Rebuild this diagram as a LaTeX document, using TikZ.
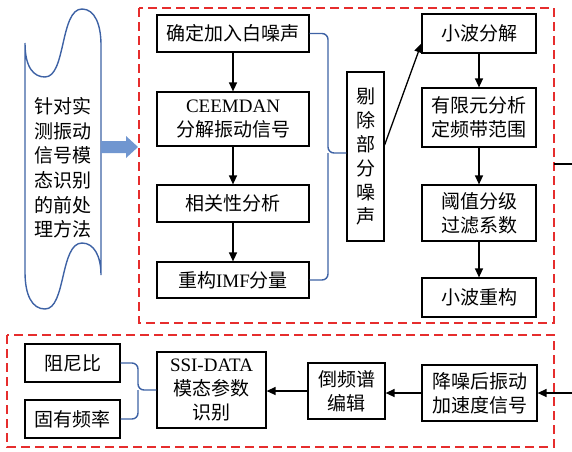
\documentclass[tikz,border=0pt]{standalone}
\usepackage{fontspec}
\setmainfont{Liberation Serif}
\newfontfamily\cjk{Noto Sans CJK SC}
\usetikzlibrary{arrows.meta}
\definecolor{dred}{RGB}{230,45,45}
\definecolor{bline}{RGB}{62,98,165}
\definecolor{bfill}{RGB}{112,150,208}
\begin{document}
\begin{tikzpicture}[x=1pt,y=-1pt,
  box/.style={draw=black, line width=1.2pt, inner sep=0pt, align=center, font=\fontsize{19}{24}\selectfont\cjk},
  lbl/.style={inner sep=0pt, align=center, font=\fontsize{19}{24.6}\selectfont\cjk},
  dbox/.style={draw=dred, line width=1.6pt, dash pattern=on 9pt off 5pt},
  arr/.style={draw=black, line width=1.3pt, -{Triangle[length=9pt,width=8pt]}},
  brace/.style={draw=bline, line width=1.4pt, rounded corners=6pt},
]
\useasboundingbox (0,0) rectangle (572,451);

% dashed frames
\draw[dbox] (139,8) rectangle (554,323);
\draw[dbox] (7,335) rectangle (554,447);

% scroll shape
\draw[bline, line width=1.4pt]
  (25,43) .. controls (25,68) and (34,77) .. (45,77)
  .. controls (66,77) and (60,9) .. (82,9)
  .. controls (95,9) and (101,25) .. (101,45)
  -- (101,275)
  .. controls (101,256) and (94,243) .. (82,243)
  .. controls (60,243) and (66,309) .. (45,309)
  .. controls (32,309) and (25,295) .. (25,272) -- cycle;
\node[lbl] (scroll) at (63,168) {针对实\\测振动\\信号模\\态识别\\的前处\\理方法};

% fat arrow
\fill[bfill] (101,141) -- (126,141) -- (126,136) -- (138,147) -- (126,158) -- (126,153) -- (101,153) -- cycle;

% left column
\node[box, minimum width=152pt, minimum height=37pt] (b1) at (233,33.5) {确定加入白噪声};
\node[box, minimum width=152pt, minimum height=54pt] (b2) at (233,119) {{\rmfamily CEEMDAN}\\分解振动信号};
\node[box, minimum width=152pt, minimum height=37pt] (b3) at (233,203.5) {相关性分析};
\node[box, minimum width=152pt, minimum height=36pt] (b4) at (233,280) {重构{\rmfamily IMF}分量};

% vertical box
\node[box, minimum width=37pt, minimum height=169pt] (tick) at (365.5,156.5) {剔\\除\\部\\分\\噪\\声};

% right column
\node[box, minimum width=114pt, minimum height=39pt] (r1) at (479,33.5) {小波分解};
\node[box, minimum width=114pt, minimum height=59pt] (r2) at (479,117.5) {有限元分析\\定频带范围};
\node[box, minimum width=114pt, minimum height=56pt] (r3) at (479,213) {阈值分级\\过滤系数};
\node[box, minimum width=114pt, minimum height=39pt] (r4) at (479,297.5) {小波重构};

% bottom row
\node[box, minimum width=95pt, minimum height=38pt] (zn) at (72.5,363) {阻尼比};
\node[box, minimum width=95pt, minimum height=38pt] (gy) at (72.5,419) {固有频率};
\node[box, minimum width=109pt, minimum height=76pt] (ssi) at (211.5,390) {{\rmfamily SSI-DATA}\\模态参数\\识别};
\node[box, minimum width=77pt, minimum height=56pt] (dp) at (346.5,391) {倒频谱\\编辑};
\node[box, minimum width=115pt, minimum height=56pt] (jz) at (479.5,393) {降噪后振动\\加速度信号};

% arrows
\draw[arr] (b1.south) -- (b2.north);
\draw[arr] (b2.south) -- (b3.north);
\draw[arr] (b3.south) -- (b4.north);
\draw[arr] (r1.south) -- (r2.north);
\draw[arr] (r2.south) -- (r3.north);
\draw[arr] (r3.south) -- (r4.north);
\draw[arr] ([yshift=11.5pt]tick.east) -- ([yshift=-10pt]r1.west);

% braces
\coordinate (bt) at (328,153);
\draw[brace] (b1.east) -| (bt) -- (bt -| tick.west);
\draw[brace] (b4.east) -| (bt);
\coordinate (bb) at (138,390);
\draw[brace] (zn.east) -| (bb) -- (bb -| ssi.west);
\draw[brace] (gy.east) -| (bb);

% connector from top frame to bottom frame (vertical part lies just beyond the picture's edge)
\coordinate (o1) at (554,164);
\coordinate (o2) at (574,164);
\draw[arr] (o1) -- (o2) |- (jz.east);
\draw[arr] (jz.west) -- (jz.west -| dp.east);
\draw[arr] (dp.west) -- (dp.west -| ssi.east);
\end{tikzpicture}
\end{document}
